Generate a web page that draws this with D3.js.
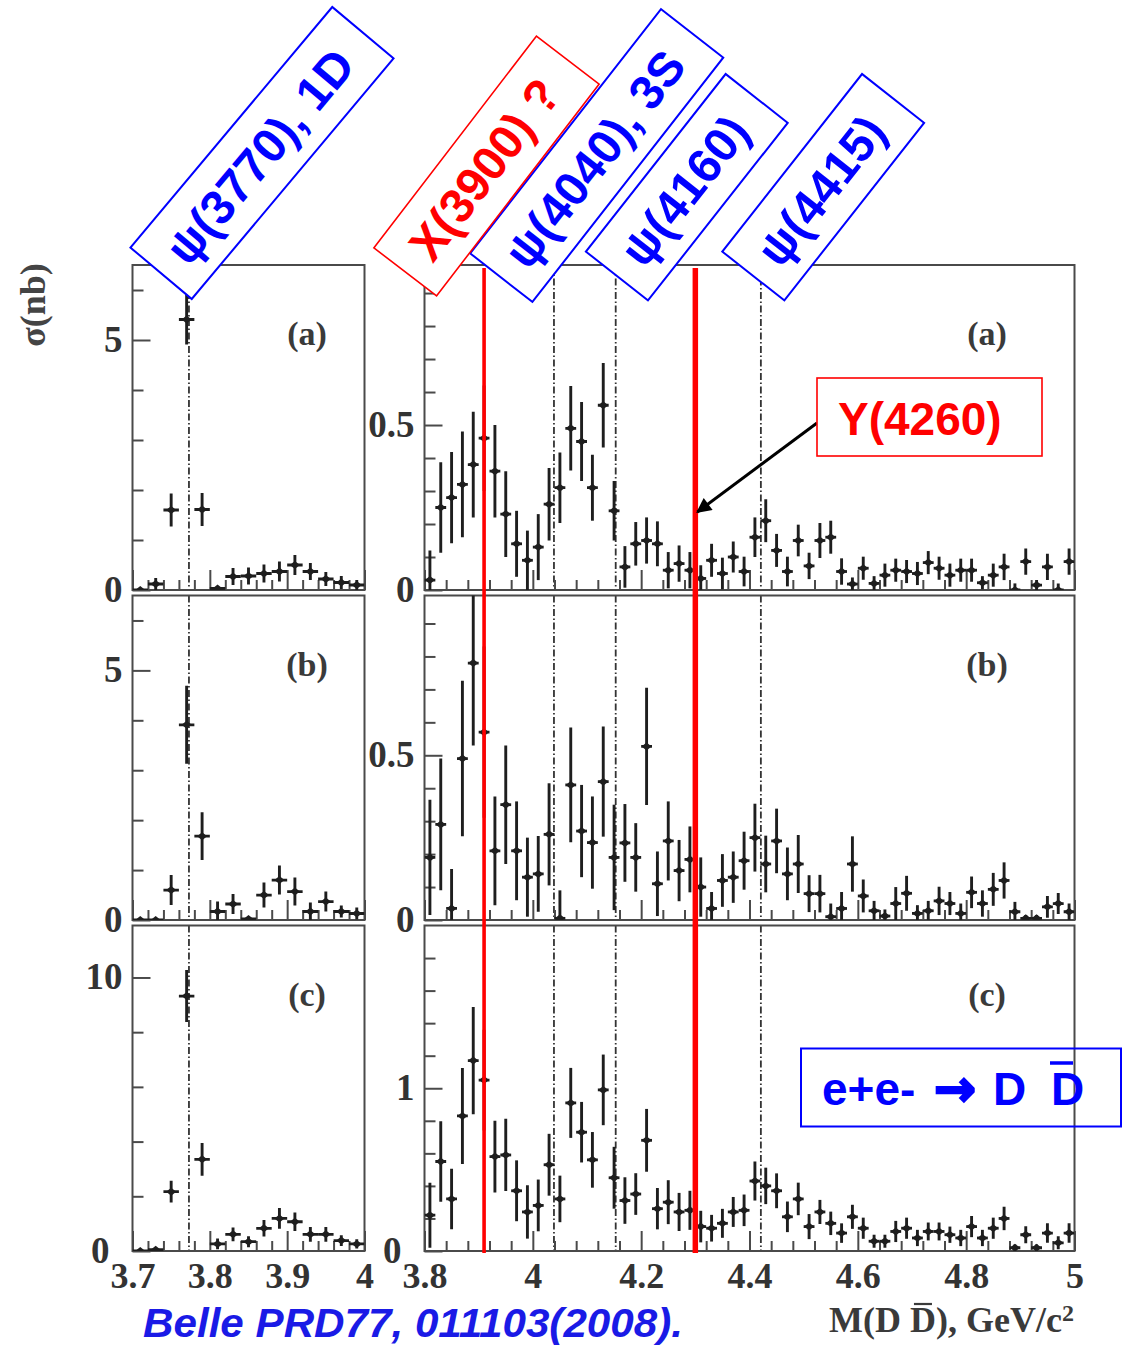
<!DOCTYPE html>
<html><head><meta charset="utf-8">
<script src="https://cdn.jsdelivr.net/npm/d3@7"></script>
<style>body{margin:0;background:#fff}svg{display:block}</style>
</head><body>
<svg id="c" width="1123" height="1346"></svg>
<script>
// ---------------- DATA ----------------
const leftBins = [3.71,3.73,3.75,3.77,3.79,3.81,3.83,3.85,3.87,3.89,3.91,3.93,3.95,3.97,3.99];
const rightBins = [3.81,3.83,3.85,3.87,3.89,3.91,3.93,3.95,3.97,3.99,4.01,4.03,4.05,4.07,4.09,4.11,4.13,4.15,4.17,4.19,
  4.21,4.23,4.25,4.27,4.29,4.31,4.33,4.35,4.37,4.39,4.41,4.43,4.45,4.47,4.49,4.51,4.53,4.55,4.57,4.59,
  4.61,4.63,4.65,4.67,4.69,4.71,4.73,4.75,4.77,4.79,4.81,4.83,4.85,4.87,4.89,4.91,4.93,4.95,4.97,4.99];

const leftA_val = [0,0.12,1.6,5.41,1.61,0.03,0.27,0.28,0.33,0.37,0.5,0.37,0.22,0.15,0.1];
const leftA_err = [0,0.12,0.33,0.5,0.33,0,0.17,0.17,0.18,0.2,0.2,0.17,0.14,0.13,0.1];
const leftB_val = [0,0,0.6,3.91,1.68,0.17,0.32,0.02,0.5,0.8,0.57,0.17,0.37,0.17,0.13];
const leftB_err = [0,0,0.3,0.78,0.48,0.2,0.2,0,0.25,0.29,0.28,0.18,0.2,0.12,0.12];
const leftC_val = [0,0.05,2.17,9.32,3.35,0.26,0.61,0.34,0.83,1.19,1.07,0.61,0.61,0.38,0.26];
const leftC_err = [0,0,0.4,0.95,0.6,0.2,0.25,0.2,0.3,0.38,0.34,0.27,0.27,0.2,0.17];

const rightA_val = [0.03,0.25,0.28,0.32,0.38,0.46,0.36,0.23,0.14,0.09,0.13,0.26,0.31,0.49,0.45,0.31,0.56,0.24,0.07,0.14,
  0.15,0.14,0.06,0.08,0.06,0.035,0.09,0.05,0.10,0.056,0.16,0.21,0.12,0.056,0.15,0.073,0.15,0.16,0.056,0.018,
  0.066,0.02,0.045,0.06,0.056,0.05,0.083,0.066,0.045,0.06,0.06,0.022,0.045,0.07,0.0,0.086,0.015,0.07,0.0,0.086];
const rightA_err = [0.09,0.137,0.138,0.16,0.16,0.16,0.14,0.13,0.10,0.09,0.10,0.11,0.107,0.128,0.12,0.10,0.128,0.09,0.063,0.066,
  0.07,0.068,0.055,0.055,0.055,0.04,0.05,0.048,0.047,0.045,0.06,0.065,0.05,0.045,0.048,0.04,0.053,0.05,0.04,0.02,
  0.035,0.022,0.035,0.035,0.035,0.035,0.035,0.035,0.035,0.035,0.035,0.02,0.035,0.04,0.02,0.04,0.015,0.04,0.02,0.04];

const rightB_val = [0.19,0.29,0.035,0.49,0.78,0.57,0.21,0.35,0.21,0.13,0.14,0.26,0.005,0.41,0.27,0.235,0.42,0.19,0.234,0.19,
  0.527,0.11,0.24,0.15,0.184,0.10,0.035,0.12,0.13,0.18,0.25,0.17,0.24,0.14,0.17,0.08,0.08,0.01,0.035,0.17,
  0.073,0.028,0.012,0.05,0.081,0.02,0.028,0.058,0.05,0.02,0.084,0.05,0.093,0.12,0.025,0.005,0.005,0.04,0.05,0.025];
const rightB_err = [0.175,0.2,0.12,0.236,0.25,0.26,0.165,0.18,0.15,0.12,0.115,0.155,0.085,0.174,0.14,0.14,0.167,0.16,0.118,0.104,
  0.178,0.098,0.12,0.093,0.1,0.09,0.05,0.08,0.078,0.088,0.103,0.086,0.098,0.08,0.088,0.056,0.057,0.04,0.05,0.084,
  0.05,0.03,0.02,0.05,0.053,0.025,0.03,0.043,0.035,0.03,0.048,0.04,0.05,0.055,0.03,0.01,0.01,0.033,0.032,0.025];

const rightC_val = [0.22,0.55,0.32,0.83,1.17,1.05,0.58,0.59,0.37,0.24,0.28,0.53,0.32,0.91,0.73,0.56,0.99,0.45,0.31,0.35,
  0.68,0.26,0.30,0.24,0.25,0.15,0.14,0.17,0.24,0.25,0.43,0.40,0.37,0.21,0.32,0.15,0.24,0.17,0.11,0.21,
  0.14,0.06,0.06,0.12,0.14,0.08,0.12,0.12,0.10,0.08,0.15,0.08,0.14,0.20,0.02,0.10,0.02,0.11,0.05,0.11];
const rightC_err = [0.2,0.248,0.186,0.295,0.329,0.31,0.22,0.222,0.187,0.164,0.159,0.19,0.143,0.215,0.186,0.171,0.217,0.19,0.143,0.128,
  0.193,0.127,0.135,0.117,0.12,0.097,0.082,0.089,0.092,0.097,0.12,0.112,0.107,0.094,0.1,0.077,0.074,0.072,0.06,0.074,
  0.065,0.04,0.04,0.065,0.065,0.05,0.055,0.055,0.05,0.05,0.065,0.05,0.065,0.072,0.02,0.052,0.02,0.06,0.04,0.06];

// tick values / labels
const leftYMinorAB = [1,2,3,4,6], leftYMajorAB = [0,5];
const leftYMinorC = [2,4,6,8], leftYMajorC = [0,10];
const rightYMinorAB = [0.1,0.2,0.3,0.4,0.6,0.7,0.8,0.9], rightYMajorAB = [0,0.5];
const rightYMinorC = [0.2,0.4,0.6,0.8,1.2,1.4,1.6,1.8], rightYMajorC = [0,1];
const leftXMinor = [3.72,3.74,3.76,3.78,3.82,3.84,3.86,3.88,3.92,3.94,3.96,3.98];
const leftXMajor = [3.7,3.8,3.9,4.0];
const leftXLabels = ["3.7","3.8","3.9","4"];
const rightXMinor = [3.84,3.88,3.92,3.96,4.04,4.08,4.12,4.16,4.24,4.28,4.32,4.36,4.44,4.48,4.52,4.56,4.64,4.68,4.72,4.76,4.84,4.88,4.92,4.96];
const rightXMajor = [3.8,4.0,4.2,4.4,4.6,4.8,5.0];
const rightXLabels = ["3.8","4","4.2","4.4","4.6","4.8","5"];
const panelLabels = ["(a)","(b)","(c)"];

const leftResonances = [3.773];
const rightResonances = [4.039, 4.153, 4.421];
const redLineMasses = [3.91, 4.30];

const stateLabels = ["\u03C8(3770), 1D","X(3900) ?","\u03C8(4040), 3S","\u03C8(4160)","\u03C8(4415)"];
const yLabel = "\u03C3(nb)";
const citation = "Belle PRD77, 011103(2008).";

// ---------------- LAYOUT ----------------
const svg = d3.select("#c");
const SERIF = "'Liberation Serif','DejaVu Serif',serif";
const SANS = "'Liberation Sans',Arial,sans-serif";
const AX = "#4a4a4a", INK = "#1e1e1e";
const rowsPx = [{top:265,bottom:590},{top:595.5,bottom:920},{top:925.5,bottom:1251}];
const xL = d3.scaleLinear().domain([3.7,4.0]).range([132.5,364.5]);
const xR = d3.scaleLinear().domain([3.8,5.0]).range([424.5,1074.5]);

const leftSpecs = [
  {ymax:6.5, minor:leftYMinorAB, major:leftYMajorAB, vals:leftA_val, errs:leftA_err},
  {ymax:6.5, minor:leftYMinorAB, major:leftYMajorAB, vals:leftB_val, errs:leftB_err},
  {ymax:11.9, minor:leftYMinorC, major:leftYMajorC, vals:leftC_val, errs:leftC_err}];
const rightSpecs = [
  {ymax:0.985, minor:rightYMinorAB, major:rightYMajorAB, vals:rightA_val, errs:rightA_err},
  {ymax:0.985, minor:rightYMinorAB, major:rightYMajorAB, vals:rightB_val, errs:rightB_err},
  {ymax:2.0, minor:rightYMinorC, major:rightYMajorC, vals:rightC_val, errs:rightC_err}];

function styleAxis(g, fs){
  g.select(".domain").remove();
  g.selectAll("line").attr("stroke",AX).attr("stroke-width",2);
  g.selectAll("text").attr("font-family",SERIF).attr("font-weight","bold")
    .attr("font-size",fs).attr("fill","#333");
}

function drawPanel(side, r){
  const px = rowsPx[r];
  const spec = side==="L" ? leftSpecs[r] : rightSpecs[r];
  const x = side==="L" ? xL : xR;
  const bins = side==="L" ? leftBins : rightBins;
  const y = d3.scaleLinear().domain([0,spec.ymax]).range([px.bottom, px.top]);
  const [x0,x1] = x.range();
  const g = svg.append("g");
  const cid = "clip"+side+r;
  svg.append("clipPath").attr("id",cid).append("rect")
    .attr("x",x0).attr("y",px.top).attr("width",x1-x0).attr("height",px.bottom-px.top);

  // resonance dash-dot lines
  const res = side==="L" ? leftResonances : rightResonances;
  g.selectAll("line.res").data(res).join("line")
    .attr("x1",d=>x(d)).attr("x2",d=>x(d)).attr("y1",px.top).attr("y2",px.bottom)
    .attr("stroke","#333").attr("stroke-width",1.8).attr("stroke-dasharray","7,2.5,1.5,2.5");

  // y axes (ticks inward)
  const gyMin = g.append("g").attr("transform",`translate(${x0},0)`)
    .call(d3.axisLeft(y).tickValues(spec.minor).tickSize(-11).tickFormat(""));
  styleAxis(gyMin, 36);
  const gyMaj = g.append("g").attr("transform",`translate(${x0},0)`)
    .call(d3.axisLeft(y).tickValues(spec.major).tickSize(-18).tickPadding(10).tickFormat(d3.format("")));
  styleAxis(gyMaj, 37);
  gyMaj.selectAll("text").attr("dy","0.3em")
    .attr("dx", d => (d===0 && r===2) ? -13 : 0);

  // x axes
  const minorX = side==="L" ? leftXMinor : rightXMinor;
  const majorX = side==="L" ? leftXMajor : rightXMajor;
  const labs = side==="L" ? leftXLabels : rightXLabels;
  const gxMin = g.append("g").attr("transform",`translate(0,${px.bottom})`)
    .call(d3.axisBottom(x).tickValues(minorX).tickSize(-10).tickFormat(""));
  styleAxis(gxMin, 36);
  const gxMaj = g.append("g").attr("transform",`translate(0,${px.bottom})`)
    .call(d3.axisBottom(x).tickValues(majorX).tickSize(-20).tickPadding(11)
      .tickFormat((d,i)=> r===2 ? labs[i] : ""));
  styleAxis(gxMaj, 36);

  // frame
  g.append("rect").attr("x",x0).attr("y",px.top).attr("width",x1-x0).attr("height",px.bottom-px.top)
    .attr("fill","none").attr("stroke",AX).attr("stroke-width",2);

  // panel label
  g.append("text").attr("x", side==="L" ? 307 : 987).attr("y", px.top+80)
    .attr("text-anchor","middle").attr("font-family",SERIF).attr("font-weight","bold")
    .attr("font-size",34).attr("fill","#3a3a3a").text(panelLabels[r]);

  // data points
  const pts = g.append("g").attr("clip-path",`url(#${cid})`);
  const data = bins.map((c,i)=>({c, v:spec.vals[i], e:spec.errs[i]}));
  const pg = pts.selectAll("g.pt").data(data).join("g");
  pg.append("line").attr("x1",d=>x(d.c-0.01)).attr("x2",d=>x(d.c+0.01))
    .attr("y1",d=>y(d.v)).attr("y2",d=>y(d.v)).attr("stroke",INK).attr("stroke-width",2.8);
  pg.filter(d=>d.e>0).append("line").attr("x1",d=>x(d.c)).attr("x2",d=>x(d.c))
    .attr("y1",d=>y(d.v+d.e)).attr("y2",d=>y(Math.max(0,d.v-d.e))).attr("stroke",INK).attr("stroke-width",2.9);
  pg.append("path").attr("d",d=>{const cx=x(d.c), cy=y(d.v);
      return `M${cx-5},${cy}L${cx},${cy-4}L${cx+5},${cy}L${cx},${cy+4}Z`;})
    .attr("fill",INK);
}

for (let r=0;r<3;r++){ drawPanel("L",r); drawPanel("R",r); }

// red vertical lines
svg.selectAll("line.red").data(redLineMasses).join("line")
  .attr("x1",d=>xR(d)).attr("x2",d=>xR(d)).attr("y1",268).attr("y2",1253)
  .attr("stroke","#ff0000").attr("stroke-width",(d,i)=> i===0 ? 3.6 : 5.5);

// y-axis title
svg.append("text").attr("transform","translate(45,305) rotate(-90)")
  .attr("text-anchor","middle").attr("font-family",SERIF).attr("font-weight","bold")
  .attr("font-size",36).attr("fill","#444").text(yLabel);

// x-axis title M(D Dbar), GeV/c^2
const xt = svg.append("text").attr("x",829).attr("y",1332).attr("font-family",SERIF)
  .attr("font-weight","bold").attr("font-size",36).attr("fill","#3a3a3a");
xt.append("tspan").text("M(D D), GeV/c");
xt.append("tspan").attr("dy",-11).attr("font-size",24).text("2");
{
  const ext = xt.node().getExtentOfChar(4);
  svg.append("line").attr("x1",ext.x+4).attr("x2",ext.x+ext.width-4)
    .attr("y1",ext.y+4).attr("y2",ext.y+4).attr("stroke","#3a3a3a").attr("stroke-width",2.2);
}

// rotated state label boxes: [cx, cy, w, h, angle, color]
const boxGeom = [
  [262,153,314,80,-50,"#0000ff"],
  [486.5,166,267,79,-52.5,"#ff0000"],
  [596.7,155.5,310,79,-52,"#0000ff"],
  [686.8,187.2,226,79,-51.8,"#0000ff"],
  [823.2,187.2,226,79,-51.8,"#0000ff"]];
const drawOrder = [0,2,1,3,4];
drawOrder.forEach(i=>{
  const [cx,cy,w,h,a,col] = boxGeom[i];
  const bg = svg.append("g").attr("transform",`translate(${cx},${cy}) rotate(${a})`);
  bg.append("rect").attr("x",-w/2).attr("y",-h/2).attr("width",w).attr("height",h)
    .attr("fill","#fff").attr("stroke",col).attr("stroke-width",col==="#ff0000"?1.6:2);
  bg.append("text").attr("x",-4).attr("y",0).attr("dy","0.36em").attr("text-anchor","middle")
    .attr("font-family",SANS).attr("font-weight","bold").attr("font-size",48)
    .attr("fill",col).text(stateLabels[i]);
});

// Y(4260) box + arrow
svg.append("defs").append("marker").attr("id","ah").attr("viewBox","0 0 10 10")
  .attr("refX",9).attr("refY",5).attr("markerWidth",6).attr("markerHeight",5)
  .attr("orient","auto").attr("markerUnits","strokeWidth")
  .append("path").attr("d","M0,0L10,5L0,10Z").attr("fill","#000");
svg.append("line").attr("x1",817).attr("y1",423).attr("x2",xR(4.30)+2).attr("y2",512)
  .attr("stroke","#000").attr("stroke-width",3).attr("marker-end","url(#ah)");
svg.append("rect").attr("x",817).attr("y",378).attr("width",225).attr("height",78)
  .attr("fill","#fff").attr("stroke","#ff0000").attr("stroke-width",1.6);
svg.append("text").attr("x",838).attr("y",435).attr("font-family",SANS).attr("font-weight","bold")
  .attr("font-size",46).attr("fill","#ff0000").text("Y(4260)");

// e+e- -> D Dbar box
svg.append("rect").attr("x",801).attr("y",1048.5).attr("width",320).attr("height",78)
  .attr("fill","none").attr("stroke","#0000ff").attr("stroke-width",2);
const eeG = svg.append("g").attr("font-family",SANS).attr("font-weight","bold")
  .attr("font-size",46).attr("fill","#0000ff");
eeG.append("text").attr("x",822).attr("y",1105).text("e+e-");
eeG.append("text").attr("x",934).attr("y",1106).attr("font-family","'DejaVu Sans',sans-serif")
  .attr("font-size",50).attr("stroke","#0000ff").attr("stroke-width",2.5).text("\u2192");
eeG.append("text").attr("x",993).attr("y",1105).text("D");
eeG.append("text").attr("x",1051).attr("y",1105).text("D");
svg.append("line").attr("x1",1050).attr("x2",1073).attr("y1",1063).attr("y2",1063)
  .attr("stroke","#0000ff").attr("stroke-width",3.5);

// citation
svg.append("text").attr("x",143).attr("y",1337).attr("font-family",SANS)
  .attr("font-weight","bold").attr("font-style","italic").attr("font-size",41)
  .attr("fill","#1a1ae6").attr("textLength",540).attr("lengthAdjust","spacingAndGlyphs").text(citation);
</script>
</body></html>
